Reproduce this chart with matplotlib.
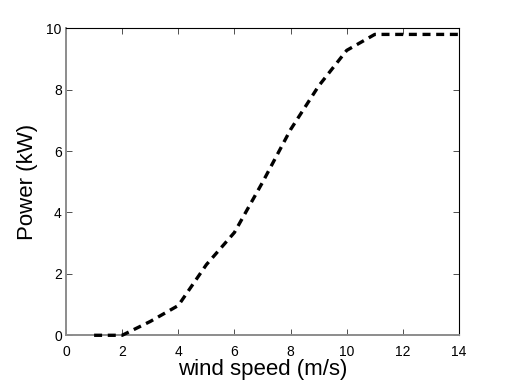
import matplotlib
matplotlib.use("Agg")
import matplotlib.pyplot as plt

# courbe de puissance
wind_speed = [1, 2, 3, 4, 5, 6, 7, 8, 9, 10, 11, 12, 13, 14]
power_kw = [0.0, 0.0, 0.45, 0.97, 2.3, 3.35, 4.98, 6.7, 8.12, 9.28, 9.8, 9.8, 9.8, 9.8]

x_ticks = [0, 2, 4, 6, 8, 10, 12, 14]
y_ticks = [0, 2, 4, 6, 8, 10]

plt.rcParams["font.family"] = ["Liberation Sans", "DejaVu Sans"]

fig = plt.figure(figsize=(5.08, 3.82), dpi=100)
ax = fig.add_axes([0.130, 0.1223, 0.7735, 0.8037])

ax.plot(wind_speed, power_kw, color="black", lw=2.4, ls=(0, (2.4, 1.7)),
        dash_capstyle="butt", zorder=3, clip_on=False)

ax.set_xlim(0, 14)
ax.set_ylim(0, 10)
ax.set_xticks(x_ticks)
ax.set_yticks(y_ticks)
ax.tick_params(direction="in", length=4, width=0.6, labelsize=10,
               top=True, right=True, color="#333333")
ax.tick_params(axis="x", pad=7)
ax.tick_params(axis="y", pad=3)

# style MATLAB : axes gauche/bas grisés
for side in ("left", "bottom"):
    ax.spines[side].set_color("#8c8c8c")
    ax.spines[side].set_linewidth(1.4)
for side in ("top", "right"):
    ax.spines[side].set_color("black")
    ax.spines[side].set_linewidth(0.8)

ax.set_xlabel("wind speed (m/s)", fontsize=16, labelpad=0)
ax.set_ylabel("Power (kW)", fontsize=16, labelpad=6)

fig.savefig("out.png", dpi=100)
